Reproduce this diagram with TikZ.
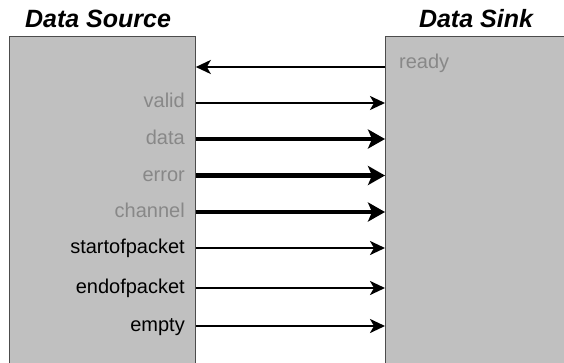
\documentclass[tikz,border=0pt]{standalone}
\usepackage{fontspec}
\setmainfont{Liberation Sans}
\usetikzlibrary{arrows.meta}
\definecolor{boxgray}{HTML}{C0C0C0}
\definecolor{labgray}{HTML}{888888}
\begin{document}
\begin{tikzpicture}[x=1pt,y=-1pt,
  blockbox/.style={draw=black!70,line width=0.8pt,fill=boxgray,inner sep=0pt,anchor=north west},
  title/.style={font=\fontsize{25}{28}\selectfont\bfseries\itshape},
  lab/.style={font=\fontsize{20}{22}\selectfont,anchor=base east,inner sep=0pt},
  glab/.style={lab,text=labgray},
  thinsig/.style={line width=2.4pt,-{Stealth[length=15pt,width=14pt,inset=4pt]}},
  thicksig/.style={line width=4.6pt,-{Stealth[length=17pt,width=19pt,inset=4pt]}}]
\useasboundingbox (0,0) rectangle (564,362);
\begin{scope}
\clip (0,0) rectangle (564,362);
\node[blockbox,minimum width=186pt,minimum height=340pt] (src) at (9,35.5) {};
\node[blockbox,minimum width=190pt,minimum height=340pt] (snk) at (385,35.5) {};
\end{scope}
\node[title] (srct) at (98,19) {Data Source};
\node[title] (snkt) at (476,19) {Data Sink};
% labels
\node[glab,anchor=base west] (lready) at (399,68) {ready};
\node[glab] (lvalid) at (185,107.5) {valid};
\node[glab] (ldata) at (185,144.5) {data};
\node[glab] (lerror) at (185,181) {error};
\node[glab] (lchannel) at (185,217.5) {channel};
\node[lab] (lsop) at (185,253.5) {startofpacket};
\node[lab] (leop) at (185,293.5) {endofpacket};
\node[lab] (lempty) at (185,331.5) {empty};
% connectors
\draw[thinsig] (snk.west |- 0,67) -- (src.east |- 0,67);
\draw[thinsig] (src.east |- 0,103) -- (snk.west |- 0,103);
\draw[thicksig] (src.east |- 0,139) -- (snk.west |- 0,139);
\draw[thicksig] (src.east |- 0,175.5) -- (snk.west |- 0,175.5);
\draw[thicksig] (src.east |- 0,212) -- (snk.west |- 0,212);
\draw[thinsig] (src.east |- 0,248) -- (snk.west |- 0,248);
\draw[thinsig] (src.east |- 0,288) -- (snk.west |- 0,288);
\draw[thinsig] (src.east |- 0,326) -- (snk.west |- 0,326);
\end{tikzpicture}
\end{document}
